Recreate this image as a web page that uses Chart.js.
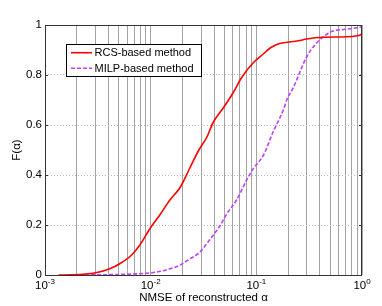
<!DOCTYPE html>
<html>
<head>
<meta charset="utf-8">
<script src="https://cdn.jsdelivr.net/npm/chart.js@4"></script>
<style>
  html, body { margin: 0; padding: 0; background: #fff; }
  canvas { display: block; }
</style>
</head>
<body>
<canvas id="cdfChart" width="382" height="306"></canvas>
<script>
const rcsX = [0.00134, 0.0018, 0.0023, 0.0031, 0.0041, 0.0051, 0.0066, 0.0079, 0.0100, 0.0122,
              0.0152, 0.019, 0.0236, 0.0286, 0.0339, 0.039, 0.049, 0.0605, 0.0726, 0.094,
              0.117, 0.135, 0.156, 0.175, 0.25, 0.3, 0.43, 0.72, 0.9, 0.98, 1.0];
const rcsY = [0, 0.001, 0.003, 0.01, 0.025, 0.045, 0.08, 0.12, 0.19, 0.24,
              0.30, 0.35, 0.43, 0.50, 0.55, 0.61, 0.67, 0.73, 0.79, 0.85,
              0.885, 0.908, 0.922, 0.928, 0.937, 0.944, 0.951, 0.953, 0.957, 0.962, 0.97];

const milpX = [0.0024, 0.0048, 0.0079, 0.0106, 0.014, 0.019, 0.0236, 0.029, 0.036, 0.045,
               0.053, 0.065, 0.081, 0.094, 0.117, 0.145, 0.18, 0.194, 0.224, 0.3,
               0.37, 0.48, 0.53, 0.665, 0.83, 1.0];
const milpY = [0, 0.002, 0.005, 0.01, 0.02, 0.04, 0.065, 0.09, 0.14, 0.195,
               0.247, 0.30, 0.38, 0.427, 0.48, 0.575, 0.66, 0.70, 0.75, 0.873,
               0.927, 0.967, 0.976, 0.982, 0.987, 0.993];

const seriesNames = ['RCS-based method', 'MILP-based method'];
const seriesColors = ['#ff0000', '#bf40ff'];

// tick values on the log axis (grid lines at every one)
const xGridTicks = [0.001, 0.002, 0.003, 0.004, 0.005, 0.006, 0.007, 0.008, 0.009,
                    0.01, 0.02, 0.03, 0.04, 0.05, 0.06, 0.07, 0.08, 0.09,
                    0.1, 0.2, 0.3, 0.4, 0.5, 0.6, 0.7, 0.8, 0.9, 1];
const xMajorTicks = [0.001, 0.01, 0.1, 1];
const xMajorExps = ['-3', '-2', '-1', '0'];
const yTicks = [0, 0.2, 0.4, 0.6, 0.8, 1];

const FONT = '"Liberation Sans", Arial, sans-serif';

function toPoints(xs, ys) {
    return xs.map((x, i) => ({ x: x, y: ys[i] }));
}

/**
 * Marco, etiquetas del eje x con exponente, títulos y leyenda
 */
const decorPlugin = {
    id: 'decor',
    afterDatasetsDraw(chart) {
        const { ctx, chartArea: a, scales } = chart;
        const xs = scales.x, ys = scales.y;
        ctx.save();

        // frame
        ctx.strokeStyle = '#333';
        ctx.lineWidth = 1;
        ctx.strokeRect(Math.round(a.left) + 0.5, Math.round(a.top) + 0.5,
                       Math.round(a.right - a.left) - 1, Math.round(a.bottom - a.top));

        // small inward tick marks on y
        yTicks.forEach(v => {
            const py = Math.round(ys.getPixelForValue(v)) + 0.5;
            ctx.beginPath();
            ctx.moveTo(a.left, py); ctx.lineTo(a.left + 3, py);
            ctx.moveTo(a.right, py); ctx.lineTo(a.right - 3, py);
            ctx.stroke();
        });

        // x tick labels: 10^k
        ctx.fillStyle = '#000';
        ctx.textBaseline = 'alphabetic';
        xMajorTicks.forEach((v, i) => {
            const px = xs.getPixelForValue(v);
            ctx.font = '11.5px ' + FONT;
            const wBase = ctx.measureText('10').width;
            ctx.font = '8px ' + FONT;
            const wExp = ctx.measureText(xMajorExps[i]).width;
            const x0 = px - (wBase + wExp) / 2;
            ctx.textAlign = 'left';
            ctx.font = '11.5px ' + FONT;
            ctx.fillText('10', x0, 289);
            ctx.font = '8px ' + FONT;
            ctx.fillText(xMajorExps[i], x0 + wBase, 284);
        });

        // axis titles
        ctx.font = '11.5px ' + FONT;
        ctx.textAlign = 'center';
        ctx.fillText('NMSE of reconstructed α', (a.left + a.right) / 2, 301);
        ctx.save();
        ctx.translate(17, (a.top + a.bottom) / 2);
        ctx.rotate(-Math.PI / 2);
        ctx.textBaseline = 'middle';
        ctx.fillText('F(α)', 0, 0);
        ctx.restore();

        // legend
        const lx = 66.5, ly = 44.5, lw = 135, lh = 32;
        ctx.fillStyle = '#fff';
        ctx.fillRect(lx, ly, lw, lh);
        ctx.strokeStyle = '#000';
        ctx.strokeRect(lx, ly, lw, lh);
        const rows = [52.7, 68.3];
        chart.data.datasets.forEach((ds, i) => {
            ctx.strokeStyle = ds.borderColor;
            ctx.lineWidth = ds.borderWidth;
            ctx.setLineDash(ds.borderDash || []);
            ctx.beginPath();
            ctx.moveTo(71, rows[i]);
            ctx.lineTo(92, rows[i]);
            ctx.stroke();
            ctx.setLineDash([]);
            ctx.fillStyle = '#000';
            ctx.textAlign = 'left';
            ctx.textBaseline = 'middle';
            ctx.font = '11px ' + FONT;
            ctx.fillText(ds.label, 94.5, rows[i] + 0.5);
        });

        ctx.restore();
    }
};

const ctx = document.getElementById('cdfChart');
new Chart(ctx, {
    type: 'line',
    data: {
        datasets: [{
            label: seriesNames[0],
            data: toPoints(rcsX, rcsY),
            borderColor: seriesColors[0],
            borderWidth: 1.6,
            pointRadius: 0,
            cubicInterpolationMode: 'monotone'
        }, {
            label: seriesNames[1],
            data: toPoints(milpX, milpY),
            borderColor: seriesColors[1],
            borderWidth: 1.6,
            borderDash: [4, 2],
            pointRadius: 0,
            cubicInterpolationMode: 'monotone'
        }]
    },
    options: {
        responsive: false,
        animation: false,
        events: [],
        layout: { padding: { left: 0, top: 25, right: 20, bottom: 0 } },
        plugins: {
            legend: { display: false },
            tooltip: { enabled: false }
        },
        scales: {
            x: {
                type: 'logarithmic',
                min: 0.001,
                max: 1,
                afterBuildTicks(scale) {
                    scale.ticks = xGridTicks.map(v => ({ value: v }));
                },
                afterFit(scale) { scale.height = 31; },
                ticks: { display: false },
                grid: { color: '#8c8c8c', lineWidth: 0.8, drawTicks: false },
                border: { display: false }
            },
            y: {
                min: 0,
                max: 1,
                afterBuildTicks(scale) {
                    scale.ticks = yTicks.map(v => ({ value: v }));
                },
                afterFit(scale) { scale.width = 45; },
                ticks: {
                    padding: 3,
                    color: '#000',
                    font: { family: FONT, size: 11.5 },
                    callback: v => String(+v.toFixed(1))
                },
                grid: { color: '#b8b8b8', lineWidth: 1, drawTicks: false },
                border: { display: false, dash: [1, 2] }
            }
        }
    },
    plugins: [decorPlugin]
});
</script>
</body>
</html>
